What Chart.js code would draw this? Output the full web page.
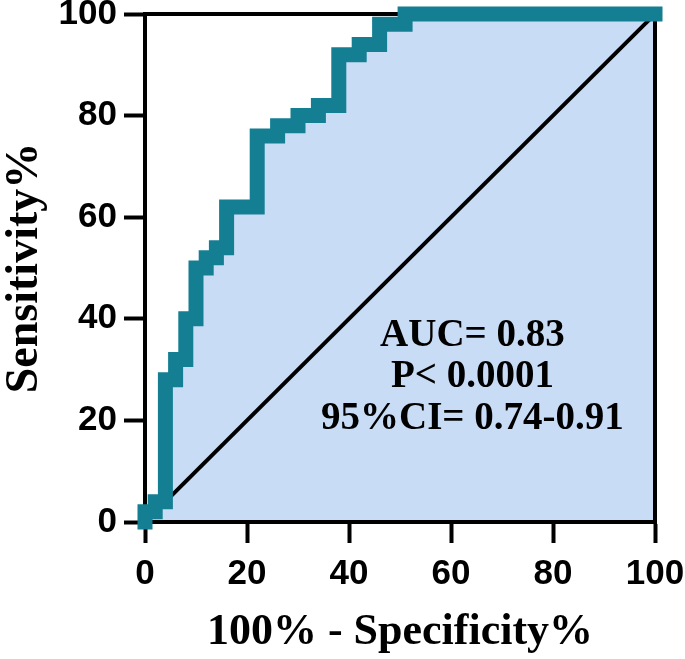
<!DOCTYPE html>
<html>
<head>
<meta charset="utf-8">
<title>ROC curve</title>
<script src="https://cdn.jsdelivr.net/npm/chart.js@4.4.0/dist/chart.umd.min.js"></script>
<style>
  html, body { margin: 0; padding: 0; background: #fff; }
  .chart-wrap { width: 685px; height: 659px; position: relative; }
</style>
</head>
<body>
<div class="chart-wrap"><canvas id="chartROC" role="img" aria-label="ROC curve">ROC curve</canvas></div>
<script>
// ROC vertices (100% - specificity, sensitivity), joined as steps
const fpr = [0, 0, 2, 4, 6, 8, 10, 12, 14, 16, 22, 26, 30, 34, 38, 42, 46, 51, 100];
const tpr = [0, 2, 4, 28, 32, 40, 50, 52, 54, 62, 76, 78, 80, 82, 92, 94, 98, 100, 100];
// reference line of no discrimination
const refLine = [0, 100];
const statLines = ['AUC= 0.83', 'P< 0.0001', '95%CI= 0.74-0.91'];

const TEAL = '#147F93';
const AREA = '#C8DCF5';
const SANS = '"Liberation Sans", Arial, sans-serif';
const SERIF = '"Liberation Serif", "Times New Roman", serif';

// box round the plot area, drawn after the fill but under the curves
const framePlugin = {
  id: 'frame',
  beforeDatasetsDraw(chart) {
    const { ctx, chartArea: a } = chart;
    ctx.save();
    ctx.strokeStyle = '#000';
    ctx.lineWidth = 4;
    ctx.strokeRect(a.left, a.top, a.right - a.left, a.bottom - a.top);
    ctx.restore();
  }
};

// AUC / P / CI text block
const statsPlugin = {
  id: 'stats',
  afterDatasetsDraw(chart) {
    const { ctx, scales: { x, y } } = chart;
    ctx.save();
    ctx.font = 'bold 39px ' + SERIF;
    ctx.fillStyle = '#000';
    ctx.textAlign = 'center';
    ctx.textBaseline = 'alphabetic';
    const cx = x.getPixelForValue(64.2);
    const y0 = y.getPixelForValue(34.7);
    statLines.forEach((t, i) => ctx.fillText(t, cx, y0 + i * 41.5));
    ctx.restore();
  }
};

const tickFont = { family: SANS, size: 35, weight: 'bold' };

new Chart(document.getElementById('chartROC'), {
  type: 'line',
  data: {
    datasets: [
      {
        label: 'ROC',
        data: fpr.map((v, i) => ({ x: v, y: tpr[i] })),
        stepped: 'before',
        borderColor: TEAL,
        borderWidth: 15,
        borderCapStyle: 'square',
        borderJoinStyle: 'miter',
        backgroundColor: AREA,
        fill: 'origin',
        pointRadius: 0,
        clip: 10
      },
      {
        label: 'Reference',
        data: refLine.map(v => ({ x: v, y: v })),
        borderColor: '#000',
        borderWidth: 4,
        fill: false,
        pointRadius: 0
      }
    ]
  },
  options: {
    responsive: true, maintainAspectRatio: false, animation: false,
    layout: { padding: { top: 14, right: 30, bottom: 0, left: 0 } },
    plugins: {
      legend: { display: false },
      tooltip: { enabled: false },
      filler: { drawTime: 'beforeDatasetsDraw' }
    },
    scales: {
      x: {
        type: 'linear', min: 0, max: 100,
        ticks: { stepSize: 20, color: '#000', font: tickFont, padding: 10 },
        grid: { drawOnChartArea: false, tickLength: 21, tickWidth: 4, tickColor: '#000' },
        border: { color: '#000', width: 4 },
        title: { display: true, text: '100% - Specificity%', color: '#000', font: { family: SERIF, size: 44, weight: 'bold', lineHeight: 1.15 }, padding: { top: 0, bottom: 1 } },
        afterFit(s) { s.height = 137; s.paddingLeft = 0; s.paddingRight = 0; }
      },
      y: {
        type: 'linear', min: 0, max: 100,
        ticks: { stepSize: 20, color: '#000', font: tickFont, padding: 7 },
        grid: { drawOnChartArea: false, tickLength: 21, tickWidth: 4, tickColor: '#000' },
        border: { color: '#000', width: 4 },
        title: { display: true, text: 'Sensitivity%', color: '#000', font: { family: SERIF, size: 46, weight: 'bold', lineHeight: 1.1 }, padding: 0 },
        afterFit(s) { s.width = 145; s.paddingTop = 0; s.paddingBottom = 0; }
      }
    }
  },
  plugins: [framePlugin, statsPlugin]
});
</script>
</body>
</html>
